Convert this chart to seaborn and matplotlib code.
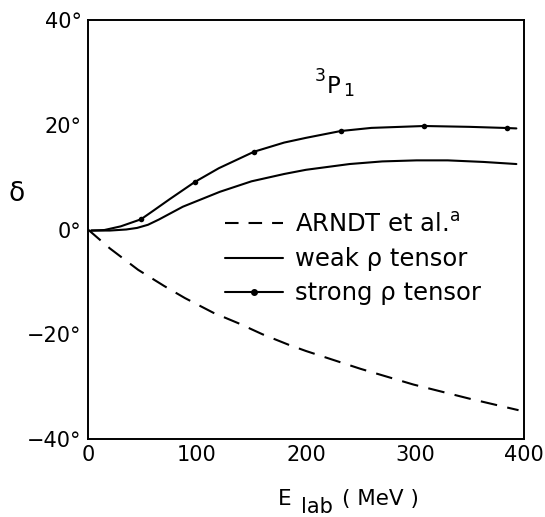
import matplotlib
matplotlib.use("Agg")
import matplotlib.pyplot as plt
from matplotlib.lines import Line2D
import seaborn as sns

# Phase shift of the 3P1 partial wave versus lab energy
arndt_e = [0, 20, 46, 70, 89, 115, 138, 160, 184, 200, 250, 298.5, 350, 395]
arndt_delta = [0, -3.6, -7.7, -10.8, -13.1, -15.9, -17.9, -20.0, -22.0, -23.2,
               -26.6, -29.6, -32.3, -34.5]

weak_e = [3, 20, 35, 45, 55, 65, 87, 121, 150, 180, 200, 240, 270, 301.5, 330, 362.7, 393]
weak_delta = [-0.2, -0.2, 0.0, 0.3, 0.9, 1.9, 4.35, 7.2, 9.2, 10.6, 11.4, 12.5,
              13.0, 13.2, 13.2, 12.9, 12.5]

strong_e = [3, 15, 30, 48.6, 60, 75, 98.2, 120, 152.3, 180, 200, 231.8, 260,
            308.3, 350, 384.1, 393]
strong_delta = [-0.2, -0.1, 0.6, 1.95, 3.6, 5.8, 9.1, 11.7, 14.85, 16.6, 17.5,
                18.8, 19.4, 19.76, 19.6, 19.38, 19.3]

# computed points marked on the strong-tensor curve
strong_dot_e = [48.6, 98.2, 152.3, 231.8, 308.3, 384.1]
strong_dot_delta = [1.95, 9.1, 14.85, 18.8, 19.76, 19.38]

x_ticks = [0, 100, 200, 300, 400]
y_ticks = [-40, -30, -20, -10, 0, 10, 20, 30, 40]
y_tick_labels = ["\u221240\u00b0", "", "\u221220\u00b0", "", "0\u00b0", "",
                 "20\u00b0", "", "40\u00b0"]

legend_labels = ["ARNDT et al.$^{\\mathrm{a}}$", "weak \u03c1 tensor",
                 "strong \u03c1 tensor"]

sns.set_style("white")
plt.rcParams["font.family"] = ["DejaVu Sans"]
plt.rcParams["text.color"] = "black"
plt.rcParams["axes.labelcolor"] = "black"
plt.rcParams["xtick.color"] = "black"
plt.rcParams["ytick.color"] = "black"

LW = 1.5
dash = (0, (8.0, 5.0))

fig = plt.figure(figsize=(5.45, 5.17), dpi=100)
ax = fig.add_axes([88 / 545, 1 - 439 / 517, 436 / 545, 419 / 517])

sns.lineplot(x=arndt_e, y=arndt_delta, ax=ax, color="black", linewidth=LW,
             linestyle=dash)
sns.lineplot(x=weak_e, y=weak_delta, ax=ax, color="black", linewidth=LW)
sns.lineplot(x=strong_e, y=strong_delta, ax=ax, color="black", linewidth=LW)
sns.scatterplot(x=strong_dot_e, y=strong_dot_delta, ax=ax, color="black",
                s=16, linewidth=0, zorder=3)

ax.set_xlim(0, 400)
ax.set_ylim(-40, 40)
ax.set_xticks(x_ticks)
ax.set_xticklabels([str(v) for v in x_ticks])
ax.set_yticks(y_ticks)
ax.set_yticklabels(y_tick_labels)
ax.tick_params(direction="in", length=6, width=1.3, labelsize=15,
               colors="black", labelcolor="black", top=False, right=False)
ax.tick_params(axis="x", pad=4.0)
ax.tick_params(axis="y", pad=4.5)
for sp in ax.spines.values():
    sp.set_linewidth(1.4)
    sp.set_color("black")

# axis titles
ax.set_ylabel("\u03b4", rotation=0, fontsize=19, va="center", ha="center")
ax.yaxis.set_label_coords(-0.163, 0.585)
ax.set_xlabel("")
ax.text(0.436, -0.1575, "E", transform=ax.transAxes, fontsize=15.5,
        ha="left", va="baseline")
ax.text(0.488, -0.1765, "lab", transform=ax.transAxes, fontsize=15,
        ha="left", va="baseline")
ax.text(0.583, -0.1575, "( MeV )", transform=ax.transAxes, fontsize=15.5,
        ha="left", va="baseline")

# partial-wave label
ax.text(208, 28.3, "3", fontsize=12.5, ha="left", va="baseline")
ax.text(219, 26.1, "P", fontsize=16.5, ha="left", va="baseline")
ax.text(234, 25.4, "1", fontsize=12.5, ha="left", va="baseline")

handles = [
    Line2D([], [], color="black", linewidth=LW, linestyle=(0, (6.5, 4.8))),
    Line2D([], [], color="black", linewidth=LW),
    Line2D([], [], color="black", linewidth=LW, marker="o", markersize=4),
]
ax.legend(handles, legend_labels, loc="upper left",
          bbox_to_anchor=((224.7 - 88) / 436, (439 - 213) / 419),
          frameon=False, fontsize=17.5, handlelength=2.4, handletextpad=0.5,
          labelspacing=0.42, borderpad=0, borderaxespad=0, numpoints=1)

fig.savefig("out.png", dpi=100)
